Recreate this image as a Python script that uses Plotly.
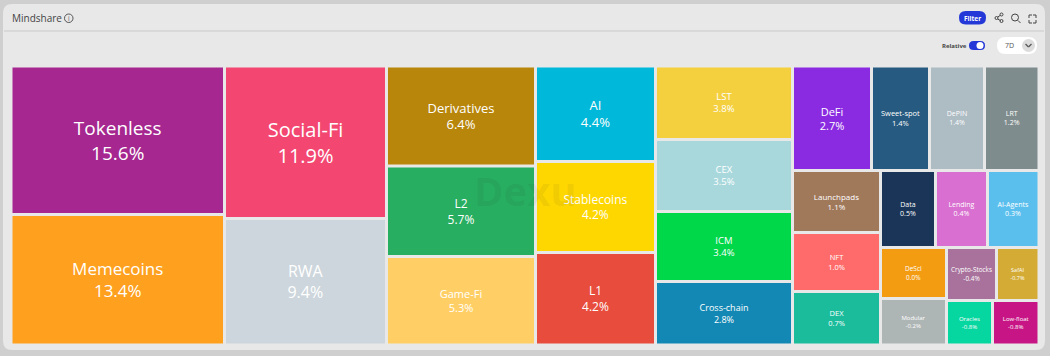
import plotly.graph_objects as go

# ---- chart data ----
tile_names = ["Tokenless", "Memecoins", "Social-Fi", "RWA", "Derivatives", "L2", "Game-Fi",
              "AI", "Stablecoins", "L1", "LST", "CEX", "ICM", "Cross-chain",
              "DeFi", "Sweet-spot", "DePIN", "LRT", "Launchpads", "NFT", "DEX",
              "Data", "Lending", "AI-Agents", "DeSci", "Modular",
              "Crypto-Stocks", "SafAI", "Oracles", "Low-float"]
tile_labels = ["15.6%", "13.4%", "11.9%", "9.4%", "6.4%", "5.7%", "5.3%",
               "4.4%", "4.2%", "4.2%", "3.8%", "3.5%", "3.4%", "2.8%",
               "2.7%", "1.4%", "1.4%", "1.2%", "1.1%", "1.0%", "0.7%",
               "0.5%", "0.4%", "0.3%", "0.0%", "-0.2%",
               "-0.4%", "-0.7%", "-0.8%", "-0.8%"]
# relative tile weight
tile_weights = [31705, 27862, 24705, 20493, 14900, 13485, 13187,
                11460, 10920, 11100, 10070, 9864, 9590, 8700,
                8256, 6061, 5748, 5695, 5456, 5192, 4708,
                4235, 4004, 3966, 3366, 3069, 2650, 2252, 2047, 2069]
tile_groups = ["c1", "c1", "c2", "c2", "c3", "c3", "c3",
               "c4", "c4", "c4", "c5", "c5", "c5", "c5",
               "top", "top", "top", "top", "left", "left", "left",
               "r1", "r1", "r1", "dc", "dc", "ra", "ra", "rb", "rb"]
tile_colors = ["#a5278f", "#ffa01e", "#f34671", "#cdd6dc", "#b8860b", "#27ae60", "#ffcf66",
               "#00b8d9", "#ffd700", "#e74c3c", "#f4d03f", "#a8d8dc", "#00d84a", "#1488b4",
               "#8a2be2", "#265a80", "#aebcc4", "#7f8c8d", "#a0785a", "#ff6b6b", "#1abc9c",
               "#1b3558", "#d96fd0", "#5bbfee", "#f39c12", "#aeb5b5",
               "#a8729c", "#d4ac35", "#06d6a0", "#c71585"]
tile_fonts = [19, 17, 20, 16, 13, 12, 11,
              13, 12, 12, 9.5, 9.5, 9.5, 9,
              11, 7.5, 7, 7, 8, 7.5, 7.5,
              7, 7, 7, 6.5, 6, 6.5, 5.5, 6, 6]
group_ids = ["root", "c1", "c2", "c3", "c4", "c5", "c6", "top", "low", "left", "right",
             "r1", "r2", "dc", "rr", "ra", "rb"]
group_parents = ["", "root", "root", "root", "root", "root", "root", "c6", "c6", "low", "low",
                 "right", "right", "r2", "r2", "rr", "rr"]

ids = group_ids + tile_names
parents = group_parents + tile_groups
values = [0] * len(group_ids) + tile_weights
texts = [""] * len(group_ids) + [f"{n}<br>{p}" for n, p in zip(tile_names, tile_labels)]
colors = ["rgba(0,0,0,0)"] * len(group_ids) + tile_colors
fonts = [8] * len(group_ids) + tile_fonts

W, H = 1050, 356
px = lambda x: x / W
py = lambda y: 1 - y / H

fig = go.Figure(go.Treemap(
    ids=ids, labels=ids, parents=parents, values=values, text=texts,
    textinfo="text", branchvalues="remainder", sort=False,
    textposition="middle center",
    textfont=dict(color="white", size=fonts, family="Open Sans"),
    marker=dict(colors=colors, line=dict(width=0), pad=dict(t=0, l=0, r=0, b=0), depthfade=False),
    tiling=dict(packing="slice-dice", pad=3),
    opacity=1, pathbar=dict(visible=False), hoverinfo="skip",
    domain=dict(x=[px(12.5), px(1037.5)], y=[py(343.5), py(67.5)]),
))

def circ(x0, y0, x1, y1, **kw):
    return dict(type="circle", xref="paper", yref="paper", x0=px(x0), x1=px(x1),
                y0=py(y1), y1=py(y0), **kw)

def line(x0, y0, x1, y1, color="#444", width=1):
    return dict(type="line", xref="paper", yref="paper", x0=px(x0), x1=px(x1),
                y0=py(y0), y1=py(y1), line=dict(color=color, width=width))

def rounded(x0, y0, x1, y1, r, fill, layer="below"):
    P = lambda x, y: f"{px(x)} {py(y)}"
    d = (f"M {P(x0+r,y0)} L {P(x1-r,y0)} Q {P(x1,y0)} {P(x1,y0+r)} L {P(x1,y1-r)} "
         f"Q {P(x1,y1)} {P(x1-r,y1)} L {P(x0+r,y1)} Q {P(x0,y1)} {P(x0,y1-r)} "
         f"L {P(x0,y0+r)} Q {P(x0,y0)} {P(x0+r,y0)} Z")
    return dict(type="path", xref="paper", yref="paper", path=d, fillcolor=fill,
                line=dict(width=0), layer=layer)

shapes = [
    rounded(3, 4, 1045, 350, 9, "#e8e8e8"),
    line(4, 31, 1044, 31, "#c9c9c9", 1),
    circ(64.5, 14, 73, 22.5, line=dict(color="#555", width=1)),
    rounded(959, 11, 986, 24.5, 6.7, "#2438d8"),
    # share
    circ(995, 16.5, 998, 19.5, line=dict(color="#444", width=1)),
    circ(1000, 13, 1003, 16, line=dict(color="#444", width=1)),
    circ(1000, 19.5, 1003, 22.5, line=dict(color="#444", width=1)),
    line(997.7, 17, 1000.4, 15.3), line(997.7, 19, 1000.4, 20.5),
    # search
    circ(1011.5, 14, 1018.5, 21, line=dict(color="#444", width=1)),
    line(1017.9, 20.4, 1020.5, 23),
    # expand
    line(1029, 15, 1029, 18), line(1029, 15, 1032, 15),
    line(1036, 15, 1036, 18), line(1033, 15, 1036, 15),
    line(1029, 20, 1029, 23), line(1029, 23, 1032, 23),
    line(1036, 20, 1036, 23), line(1033, 23, 1036, 23),
    # toggle
    rounded(969, 41, 985, 50, 4.5, "#2438d8"),
    circ(976.5, 42, 983.5, 49, fillcolor="white", line=dict(width=0)),
    # period dropdown
    rounded(997, 37, 1037, 54, 8.5, "#ffffff"),
    circ(1022, 39, 1035, 52, fillcolor="#dcdcdc", line=dict(width=0)),
    line(1025.5, 44, 1028.5, 47, "#555", 1.2), line(1028.5, 47, 1031.5, 44, "#555", 1.2),
]

def note(x, y, text, size, color, family="Open Sans", anchor="left"):
    return dict(xref="paper", yref="paper", x=px(x), y=py(y), text=text, showarrow=False,
                xanchor=anchor, yanchor="middle", font=dict(size=size, color=color, family=family),
                borderpad=0, borderwidth=0)

annotations = [
    note(12, 18, "Mindshare", 10, "#444"),
    note(68.7, 18, "i", 6.5, "#555", anchor="center"),
    note(972.5, 18, "<b>Filter</b>", 6.5, "#ffffff", anchor="center"),
    note(954, 45.5, "<b>Relative</b>", 6, "#444", anchor="center"),
    note(1009, 45.5, "7D", 7, "#555", anchor="center"),
    note(525, 190, "<b>Dexu</b>", 40, "rgba(40,40,40,0.07)", anchor="center"),
]

fig.update_layout(width=W, height=H, margin=dict(l=0, r=0, t=0, b=0),
                  paper_bgcolor="#cfcfcf", shapes=shapes, annotations=annotations)
fig.write_html("out.html", config=dict(displayModeBar=False),
               post_script="document.body.style.margin='0';document.body.style.overflow='hidden';")
